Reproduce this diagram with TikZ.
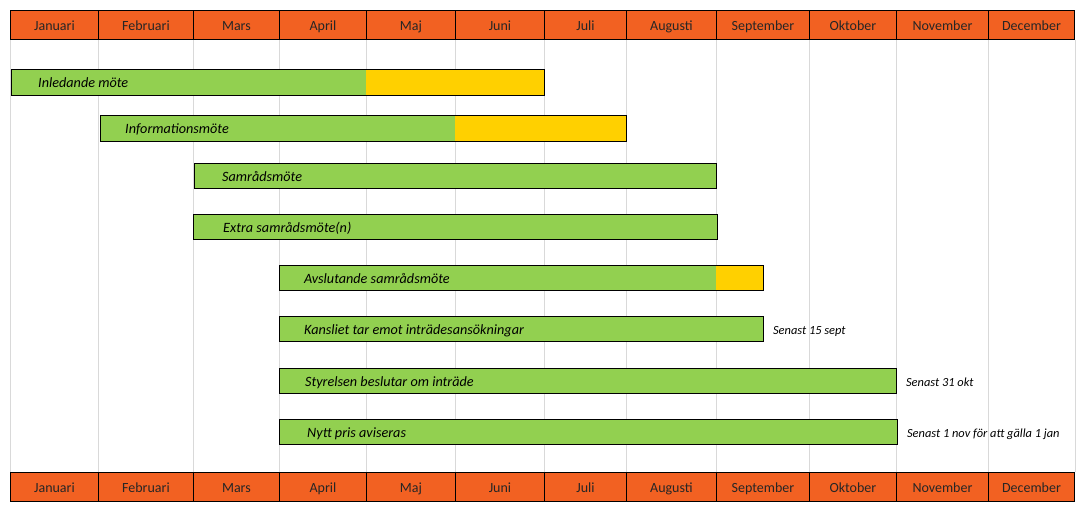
\documentclass[tikz,border=0pt]{standalone}
\usepackage{fontspec}
\setmainfont{Carlito}
\usetikzlibrary{positioning}
\definecolor{headorange}{HTML}{F26122}
\definecolor{bargreen}{HTML}{92D050}
\definecolor{baryellow}{HTML}{FFD000}
\definecolor{gridgray}{HTML}{D9D9D9}

\begin{document}
\begin{tikzpicture}[x=1pt, y=-1pt,
  month/.style={rectangle, draw=black, line width=0.9pt, fill=headorange,
                minimum height=29pt, inner sep=0pt, anchor=north west,
                text height=12pt, text depth=1.5pt,
                font=\fontsize{14}{16}\selectfont, text=black!85},
  bar/.style={rectangle, draw=black, line width=0.9pt, fill=bargreen,
              minimum height=25pt, inner sep=0pt, anchor=north west},
  lbl/.style={anchor=west, inner sep=0pt, text height=12pt, text depth=1.5pt,
              font=\fontsize{14.2}{16}\selectfont\itshape},
  note/.style={anchor=west, inner sep=0pt, text height=12.5pt, text depth=1pt,
               font=\fontsize{12.4}{14}\selectfont\itshape},
  gridline/.style={draw=gridgray, line width=0.8pt},
  late/.style={fill=baryellow},
  rim/.style={draw=black, line width=0.9pt}
]
  \useasboundingbox (0,0) rectangle (1086,514);

  % month headers, top and bottom, with the grid between
  \foreach \m/\l/\r in {Januari/10/98, Februari/98/193, Mars/193/279, April/279/366,
                        Maj/366/455, Juni/455/544, Juli/544/626, Augusti/626/716,
                        September/716/809, Oktober/809/896, November/896/988,
                        December/988/1074}{
    \pgfmathsetmacro\w{\r-\l}
    \node[month, minimum width=\w pt] (top\m) at (\l,10)  {\m};
    \node[month, minimum width=\w pt] (bot\m) at (\l,472) {\m};
    \draw[gridline] (top\m.south west) -- (bot\m.north west);
  }
  \draw[gridline] (topDecember.south east) -- (botDecember.north east);

  \node[bar, minimum width=533pt, minimum height=26pt] (inledande) at (11,69)  {};
  \node[bar, minimum width=526pt, minimum height=26pt] (info)      at (100,115) {};
  \node[bar, minimum width=522pt] (samrad)    at (194,163) {};
  \node[bar, minimum width=524pt] (extra)     at (193,214) {};
  \node[bar, minimum width=484pt] (avslut)    at (279,265) {};
  \node[bar, minimum width=484pt] (kansliet)  at (279,316) {};
  \node[bar, minimum width=617pt] (styrelsen) at (279,368) {};
  \node[bar, minimum width=618pt] (pris)      at (279,419) {};

  % yellow tails
  \fill[late] (366,69)  rectangle (inledande.south east);
  \draw[rim] (inledande.north west) rectangle (inledande.south east);
  \fill[late] (455,115) rectangle (info.south east);
  \draw[rim] (info.north west) rectangle (info.south east);
  \fill[late] (716,265) rectangle (avslut.south east);
  \draw[rim] (avslut.north west) rectangle (avslut.south east);

  \node[lbl, right=27pt of inledande.west] (inledandeText) {Inledande möte};
  \node[lbl, right=25pt of info.west]      (infoText)      {Informationsmöte};
  \node[lbl, right=28pt of samrad.west]    (samradText)    {Samrådsmöte};
  \node[lbl, right=30pt of extra.west]     (extraText)     {Extra samrådsmöte(n)};
  \node[lbl, right=25pt of avslut.west]    (avslutText)    {Avslutande samrådsmöte};
  \node[lbl, right=25pt of kansliet.west]  (kanslietText)  {Kansliet tar emot inträdesansökningar};
  \node[lbl, right=26pt of styrelsen.west] (styrelsenText) {Styrelsen beslutar om inträde};
  \node[lbl, right=28pt of pris.west]      (prisText)      {Nytt pris aviseras};

  \node[note, right=9pt of kansliet.east]  (kanslietNote)  {Senast 15 sept};
  \node[note, right=9pt of styrelsen.east] (styrelsenNote) {Senast 31 okt};
  \node[note, right=9pt of pris.east]      (prisNote)      {Senast 1 nov för att gälla 1 jan};
\end{tikzpicture}
\end{document}
